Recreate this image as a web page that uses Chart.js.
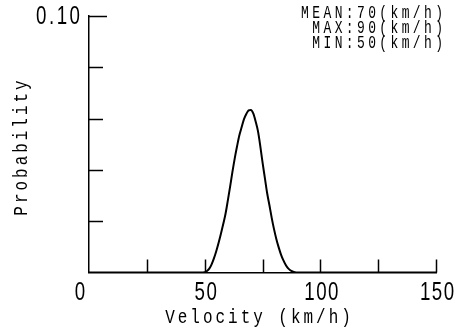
<!DOCTYPE html>
<html>
<head>
<meta charset="utf-8">
<script src="https://cdn.jsdelivr.net/npm/chart.js@4/dist/chart.umd.min.js"></script>
<style>
  html, body { margin: 0; padding: 0; background: #fff; }
  #wrap { width: 459px; height: 331px; }
</style>
</head>
<body>
<div id="wrap"><canvas id="c" width="459" height="331"></canvas></div>
<script>
// ---- data ----
const velocity = [0, 40, 45, 48, 50, 51, 52, 53, 54, 55, 56, 57, 58, 59, 60, 61, 62, 63, 64, 65, 66, 67, 68, 69, 70,
                  71, 72, 73, 74, 75, 76, 77, 78, 79, 80, 81, 82, 83, 84, 85, 86, 87, 88, 89, 90, 95, 150];
const probability = [0, 0, 0, 0, 0.0001, 0.0006, 0.0015, 0.0032, 0.0055, 0.0083, 0.0115, 0.0150, 0.0188, 0.0228, 0.0280,
                     0.0335, 0.0392, 0.0445, 0.0492, 0.0535, 0.0567, 0.0598, 0.0618, 0.0632, 0.0634,
                     0.0620, 0.0590, 0.0553, 0.0496, 0.0430, 0.0370, 0.0310, 0.0262, 0.0212, 0.0168, 0.0130,
                     0.0098, 0.0070, 0.0048, 0.0030, 0.0017, 0.0009, 0.0004, 0.0001, 0, 0, 0];
const xTickMarks = [25, 50, 75, 100, 125, 150];
const xTickLabels = [0, 50, 100, 150];
const yTickMarks = [0.02, 0.04, 0.06, 0.08, 0.10];
const yTickLabel = '0.10';
const xTitle = 'Velocity (km/h)';
const yTitle = 'Probability';
const notes = ['MEAN:70(km/h)', 'MAX:90(km/h)', 'MIN:50(km/h)'];

const numFont = "'Liberation Sans', Arial, sans-serif";
const monoFont = "'Liberation Mono', 'DejaVu Sans Mono', monospace";

// draw text condensed horizontally with letter spacing; align: 'left' | 'center' | 'right'
function drawText(ctx, text, x, y, o) {
  ctx.save();
  ctx.translate(x, y);
  if (o.rotate) ctx.rotate(o.rotate);
  ctx.scale(o.sx, 1);
  ctx.font = o.size + 'px ' + o.family;
  const sp = o.spacing / o.sx;
  if ('letterSpacing' in ctx) ctx.letterSpacing = sp + 'px';
  ctx.textAlign = 'left';
  ctx.textBaseline = 'alphabetic';
  let w = ctx.measureText(text).width;
  if ('letterSpacing' in ctx) w -= sp;
  let dx = 0;
  if (o.align === 'center') dx = -w / 2;
  else if (o.align === 'right') dx = -w;
  ctx.fillText(text, dx, 0);
  ctx.restore();
}

const inner = {
  id: 'inner',
  afterDraw(chart) {
    const { ctx, chartArea: ca, scales: { x, y } } = chart;
    ctx.save();
    ctx.strokeStyle = '#000';
    ctx.lineWidth = 1.5;
    yTickMarks.forEach(v => {
      const py = Math.round(y.getPixelForValue(v)) + 0.5;
      ctx.beginPath();
      ctx.moveTo(ca.left, py);
      ctx.lineTo(ca.left + (Math.abs(v - 0.1) < 1e-9 ? 18 : 14), py);
      ctx.stroke();
    });
    xTickMarks.forEach(v => {
      const px = Math.round(x.getPixelForValue(v)) + 0.5;
      ctx.beginPath();
      ctx.moveTo(px, ca.bottom);
      ctx.lineTo(px, ca.bottom - 13);
      ctx.stroke();
    });
    ctx.fillStyle = '#000';
    // tick labels
    const num = { size: 26, family: numFont, sx: 0.72, spacing: 1.5, align: 'center' };
    xTickLabels.forEach(v => {
      const px = x.getPixelForValue(v) + (v === 0 ? -9 : 1);
      drawText(ctx, String(v), px, 300, num);
    });
    drawText(ctx, yTickLabel, 80, 24, Object.assign({}, num, { align: 'right', spacing: 2.5 }));
    // axis titles
    const ttl = { size: 21, family: monoFont, sx: 0.76, spacing: 3, align: 'center' };
    drawText(ctx, xTitle, 258, 323, ttl);
    drawText(ctx, yTitle, 27, 148, Object.assign({}, ttl, { rotate: -Math.PI / 2 }));
    // annotations
    const nt = { size: 18, family: monoFont, sx: 0.72, spacing: 3.4, align: 'right' };
    notes.forEach((t, i) => drawText(ctx, t, 443, 18 + i * 15, nt));
    ctx.restore();
  }
};

new Chart(document.getElementById('c'), {
  type: 'line',
  data: {
    datasets: [{
      data: velocity.map((v, i) => ({ x: v, y: probability[i] })),
      borderColor: '#000',
      borderWidth: 2,
      pointRadius: 0,
      fill: false,
      cubicInterpolationMode: 'monotone'
    }]
  },
  options: {
    responsive: false,
    animation: false,
    plugins: { legend: { display: false }, tooltip: { enabled: false } },
    layout: { padding: { left: 0, top: 16, right: 23, bottom: 0 } },
    scales: {
      x: {
        type: 'linear', min: 0, max: 150,
        afterFit: s => { s.height = 58.5; },
        grid: { display: false, drawTicks: false },
        border: { display: true, color: '#000', width: 1.5 },
        ticks: { display: false, stepSize: 25 }
      },
      y: {
        type: 'linear', min: 0, max: 0.1,
        afterFit: s => { s.width = 89; },
        grid: { display: false, drawTicks: false },
        border: { display: true, color: '#000', width: 1.5 },
        ticks: { display: false, stepSize: 0.02 }
      }
    }
  },
  plugins: [inner]
});
</script>
</body>
</html>
